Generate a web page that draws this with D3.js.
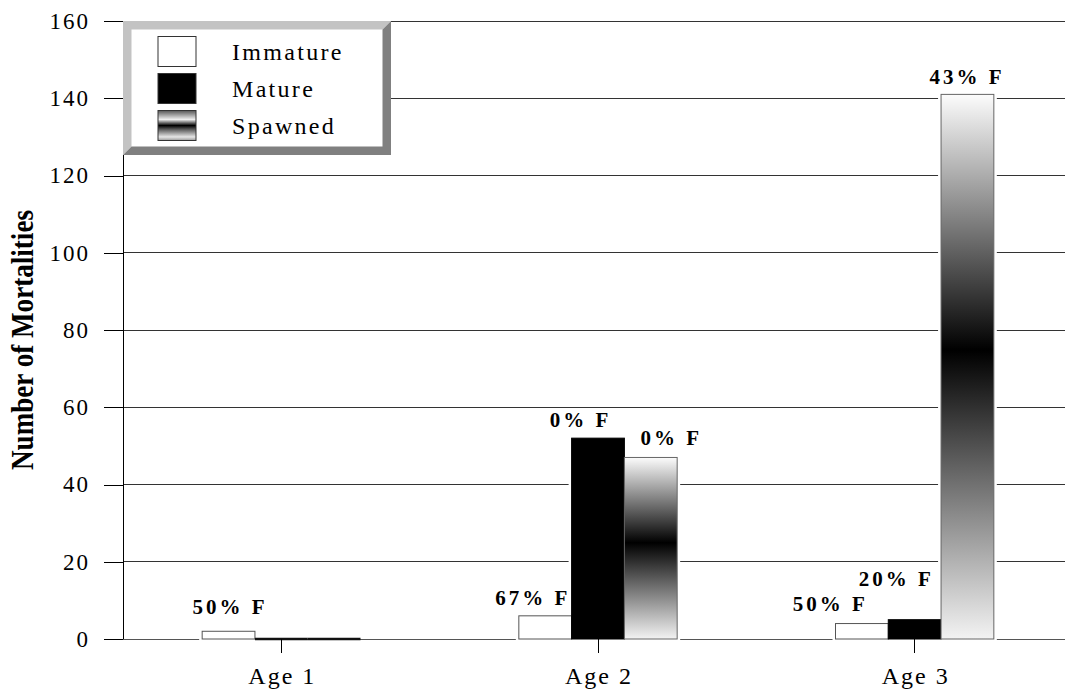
<!DOCTYPE html>
<html>
<head>
<meta charset="utf-8">
<script src="https://cdn.jsdelivr.net/npm/d3@7/dist/d3.min.js"></script>
<style>
  html, body { margin: 0; padding: 0; background: #fff; }
  svg { display: block; }
  text { font-family: "Liberation Serif", "Times New Roman", serif; }
</style>
</head>
<body>
<svg id="chart" width="1065" height="690"></svg>
<script>
// ---- data ----
const ages = ["Age 1", "Age 2", "Age 3"];
const stages = ["Immature", "Mature", "Spawned"];
const immature = [2, 6, 4];
const mature = [0, 52, 5];
const spawned = [0, 47, 141];
const immaturePctF = [50, 67, 50];
const maturePctF = [null, 0, 20];
const spawnedPctF = [null, 0, 43];
const yTicks = [0, 20, 40, 60, 80, 100, 120, 140, 160];
const yTitle = "Number of Mortalities";

// ---- layout / style (not data) ----
const W = 1065, H = 690;
const plot = { left: 123, right: 1073, top: 21, bottom: 639 };
// hand-placed label nudges [dx, dy] relative to bar top centre, per stage per age
const labelNudge = {
  Immature: [[0, -17], [-14, -11], [-33, -13]],
  Mature:   [[0, -11], [-19, -11], [-20, -34]],
  Spawned:  [[0, -11], [19, -12], [-2, -10]]
};

const seriesValues = { Immature: immature, Mature: mature, Spawned: spawned };
const seriesPct = { Immature: immaturePctF, Mature: maturePctF, Spawned: spawnedPctF };

const svg = d3.select("#chart");
const defs = svg.append("defs");

// bar gradient (white -> black -> white)
const g1 = defs.append("linearGradient").attr("id", "spawnGrad")
  .attr("x1", 0).attr("y1", 0).attr("x2", 0).attr("y2", 1);
[[0, "#fcfcfc"], [0.47, "#000000"], [1, "#f3f3f3"]].forEach(([o, c]) =>
  g1.append("stop").attr("offset", o).attr("stop-color", c));
// legend swatch gradient
const g2 = defs.append("linearGradient").attr("id", "legendGrad")
  .attr("x1", 0).attr("y1", 0).attr("x2", 0).attr("y2", 1);
[[0, "#555"], [0.3, "#eeeeee"], [0.5, "#000"], [0.62, "#555"], [0.88, "#e6e6e6"], [1, "#999"]].forEach(([o, c]) =>
  g2.append("stop").attr("offset", o).attr("stop-color", c));

const fills = { Immature: "#ffffff", Mature: "#000000", Spawned: "url(#spawnGrad)" };
const strokes = { Immature: "#555", Mature: "#000", Spawned: "#666" };

// ---- scales ----
const x0 = d3.scaleBand().domain(ages).range([plot.left, plot.right])
  .paddingInner(0.5).paddingOuter(0.25);
const x1 = d3.scaleBand().domain(stages).range([0, x0.bandwidth()]).padding(0);
const y = d3.scaleLinear().domain([0, 160]).range([plot.bottom, plot.top]);

// ---- gridlines ----
svg.append("g").selectAll("line").data(yTicks).join("line")
  .attr("x1", plot.left).attr("x2", W)
  .attr("y1", d => y(d)).attr("y2", d => y(d))
  .attr("stroke", d => d === 0 ? "#555" : "#333").attr("stroke-width", 1)
  .attr("shape-rendering", "crispEdges");

// ---- y axis ----
const yAxis = d3.axisLeft(y).tickValues(yTicks).tickSize(19).tickPadding(16).tickFormat(d3.format("d"));
const yg = svg.append("g").attr("transform", `translate(${plot.left},0)`).call(yAxis);
yg.select(".domain").remove();
yg.selectAll(".tick line").attr("stroke", "#000").attr("shape-rendering", "crispEdges");
yg.selectAll(".tick text")
  .attr("font-family", '"Liberation Serif", "Times New Roman", serif')
  .attr("font-size", 23).attr("fill", "#000")
  .attr("letter-spacing", "2px").attr("dx", 2);
svg.append("line").attr("x1", plot.left).attr("x2", plot.left)
  .attr("y1", plot.top).attr("y2", plot.bottom)
  .attr("stroke", "#000").attr("shape-rendering", "crispEdges");

// ---- bars ----
const rows = [];
ages.forEach((a, i) => stages.forEach(s => rows.push({
  age: a, i, stage: s, value: seriesValues[s][i], pct: seriesPct[s][i]
})));

// white halos creating gaps in the gridlines
svg.append("g").selectAll("rect").data(rows.filter(d => d.value > 0)).join("rect")
  .attr("x", d => x0(d.age) + x1(d.stage) - 3)
  .attr("width", x1.bandwidth() + 6)
  .attr("y", d => y(d.value))
  .attr("height", d => y(0) - y(d.value) + 1)
  .attr("fill", "#fff");

svg.append("g").selectAll("rect").data(rows.filter(d => d.value > 0)).join("rect")
  .attr("x", d => x0(d.age) + x1(d.stage))
  .attr("width", x1.bandwidth())
  .attr("y", d => y(d.value))
  .attr("height", d => y(0) - y(d.value))
  .attr("fill", d => fills[d.stage])
  .attr("stroke", d => strokes[d.stage])
  .attr("stroke-width", 1);

// zero-valued bars collapse to a dark line on the baseline
svg.append("g").selectAll("line").data(rows.filter(d => d.value === 0)).join("line")
  .attr("x1", d => x0(d.age) + x1(d.stage))
  .attr("x2", d => x0(d.age) + x1(d.stage) + x1.bandwidth())
  .attr("y1", d => y(d.value)).attr("y2", d => y(d.value))
  .attr("stroke", "#111").attr("stroke-width", 2.5);

// ---- x axis ticks & labels ----
const xg = svg.append("g");
xg.selectAll("line").data(ages).join("line")
  .attr("x1", d => x0(d) + x0.bandwidth() / 2).attr("x2", d => x0(d) + x0.bandwidth() / 2)
  .attr("y1", plot.bottom).attr("y2", plot.bottom + 14)
  .attr("stroke", "#000").attr("shape-rendering", "crispEdges");
xg.selectAll("text").data(ages).join("text")
  .attr("x", d => x0(d) + x0.bandwidth() / 2 + 1)
  .attr("y", 684)
  .attr("text-anchor", "middle")
  .attr("font-size", 24).attr("letter-spacing", "2px")
  .text(d => d);

// ---- value labels ----
svg.append("g").selectAll("text").data(rows.filter(d => d.pct !== null)).join("text")
  .attr("x", d => x0(d.age) + x1(d.stage) + x1.bandwidth() / 2 + labelNudge[d.stage][d.i][0] + 1.5)
  .attr("y", d => y(d.value) + labelNudge[d.stage][d.i][1])
  .attr("text-anchor", "middle")
  .attr("font-size", 21).attr("font-weight", "bold").attr("letter-spacing", "3px")
  .text(d => `${d.pct}% F`);

// ---- y title ----
svg.append("text")
  .attr("transform", "translate(33,340) rotate(-90)")
  .attr("text-anchor", "middle")
  .attr("font-size", 31).attr("font-weight", "bold")
  .attr("textLength", 260).attr("lengthAdjust", "spacingAndGlyphs")
  .text(yTitle);

// ---- legend ----
const L = { x0: 123, y0: 21, x1: 391, y1: 155, b: 8.5 };
const lg = svg.append("g");
lg.append("rect").attr("x", L.x0).attr("y", L.y0).attr("width", L.x1 - L.x0).attr("height", L.y1 - L.y0).attr("fill", "#fff");
lg.append("polygon").attr("fill", "#c3c3c3").attr("points", [
  [L.x0, L.y0], [L.x1, L.y0], [L.x1 - L.b, L.y0 + L.b], [L.x0 + L.b, L.y0 + L.b],
  [L.x0 + L.b, L.y1 - L.b], [L.x0, L.y1]].map(p => p.join(",")).join(" "));
lg.append("polygon").attr("fill", "#808080").attr("points", [
  [L.x1, L.y0], [L.x1, L.y1], [L.x0, L.y1], [L.x0 + L.b, L.y1 - L.b],
  [L.x1 - L.b, L.y1 - L.b], [L.x1 - L.b, L.y0 + L.b]].map(p => p.join(",")).join(" "));
const legendFills = { Immature: "#fff", Mature: "#000", Spawned: "url(#legendGrad)" };
const item = lg.selectAll("g.item").data(stages).join("g").attr("class", "item")
  .attr("transform", (d, i) => `translate(158,${36.5 + i * 37})`);
item.append("rect").attr("width", 38).attr("height", 30)
  .attr("fill", d => legendFills[d]).attr("stroke", "#333").attr("stroke-width", 1);
item.append("text").attr("x", 74).attr("y", 23.5)
  .attr("font-size", 24).attr("letter-spacing", "2.3px")
  .text(d => d);
</script>
</body>
</html>
